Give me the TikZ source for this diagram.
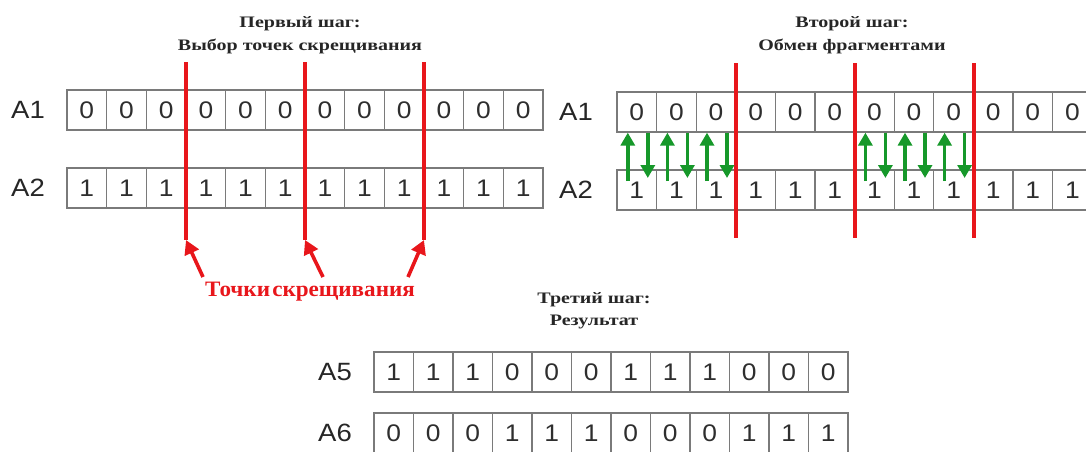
\documentclass[tikz,border=0pt]{standalone}
\usepackage{fontspec}
\setmainfont{Liberation Serif}
\newfontfamily\cellfont[FakeStretch=1.1]{Liberation Sans}
\newfontfamily\titlefont[FakeStretch=1.25]{Liberation Serif}
\newfontfamily\redfont[FakeStretch=1.05]{Liberation Serif}
\usetikzlibrary{arrows.meta}
\definecolor{cellgray}{HTML}{7A7A7A}
\definecolor{digit}{HTML}{2E2E2E}
\definecolor{xred}{HTML}{E8161B}
\definecolor{xgreen}{HTML}{16982A}
\begin{document}
\begin{tikzpicture}[x=1pt,y=-1pt,
 cell/.style={draw=cellgray, line width=1.3pt, minimum width=39.6pt, minimum height=40pt, inner sep=0pt, font=\cellfont\fontsize{24}{24}\selectfont, text=digit},
 rowlabel/.style={font=\cellfont\fontsize{25}{25}\selectfont, text=black!85, inner sep=0pt},
 title/.style={font=\titlefont\bfseries\fontsize{16}{23}\selectfont, align=center, inner sep=0pt, text=black!85},
 cutline/.style={draw=xred, line width=3.2pt},
 redarrow/.style={draw=xred, line width=3.6pt, -{Triangle[length=14pt,width=15pt]}},
 swaparrow/.style={draw=xgreen, line width=3.6pt, -{Triangle[length=13pt,width=14pt]}},
]
\useasboundingbox (0,0) rectangle (1086,451);
\clip (0,0) rectangle (1086,451);

% ---------- step 1 ----------
\node[title] (t1) at (300,35) {Первый шаг:\\Выбор точек скрещивания};
\node[rowlabel] (la1) at (28,110) {A1};
\node[rowlabel] (la2) at (28,188) {A2};
\foreach \d [count=\i from 0] in {0,0,0,0,0,0,0,0,0,0,0,0}
  \node[cell] (L1-\i) at (67+39.67*\i+19.83,110) {\d};
\foreach \d [count=\i from 0] in {1,1,1,1,1,1,1,1,1,1,1,1}
  \node[cell] (L2-\i) at (67+39.67*\i+19.83,188) {\d};

\coordinate (c1t) at (186,62);  \coordinate (c1b) at (186,240);
\coordinate (c2t) at (305,62);  \coordinate (c2b) at (305,240);
\coordinate (c3t) at (424,62);  \coordinate (c3b) at (424,240);
\draw[cutline] (c1t) -- (c1b);
\draw[cutline] (c2t) -- (c2b);
\draw[cutline] (c3t) -- (c3b);

\node[font=\redfont\bfseries\fontsize{22}{22}\selectfont, text=xred, inner sep=0pt] (pts) at (310,292) {Точки\hspace{0.1em}скрещивания};
\coordinate (r1) at (203,277);
\coordinate (r2) at (323,277);
\coordinate (r3) at (408,277);
\draw[redarrow] (r1) -- (c1b);
\draw[redarrow] (r2) -- (c2b);
\draw[redarrow] (r3) -- (c3b);

% ---------- step 2 ----------
\node[title] (t2) at (852,35) {Второй шаг:\\Обмен фрагментами};
\node[rowlabel] (ra1) at (576,112) {A1};
\node[rowlabel] (ra2) at (576,190) {A2};
\foreach \d [count=\i from 0] in {0,0,0,0,0,0,0,0,0,0,0,0}
  \node[cell] (R1-\i) at (617+39.6*\i+19.8,112) {\d};
\foreach \d [count=\i from 0] in {1,1,1,1,1,1,1,1,1,1,1,1}
  \node[cell] (R2-\i) at (617+39.6*\i+19.8,190) {\d};

\coordinate (d1t) at (736,63);  \coordinate (d1b) at (736,238);
\coordinate (d2t) at (855,63);  \coordinate (d2b) at (855,238);
\coordinate (d3t) at (974,63);  \coordinate (d3b) at (974,238);
\draw[cutline] (d1t) -- (d1b);
\draw[cutline] (d2t) -- (d2b);
\draw[cutline] (d3t) -- (d3b);

\foreach \i in {0,1,2,6,7,8} {
  \coordinate (up\i b) at ([xshift=-9pt]R2-\i.north |- 0,181);
  \coordinate (up\i t) at ([xshift=-9pt]R1-\i.south);
  \coordinate (dn\i t) at ([xshift=11pt]R1-\i.south);
  \coordinate (dn\i b) at ([xshift=11pt]R2-\i.north |- 0,178);
  \draw[swaparrow] (up\i b) -- (up\i t);
  \draw[swaparrow] (dn\i t) -- (dn\i b);
}

% ---------- step 3 ----------
\node[title, font=\titlefont\bfseries\fontsize{16}{22}\selectfont] (t3) at (594,311) {Третий шаг:\\Результат};
\node[rowlabel] (la5) at (335,372) {A5};
\node[rowlabel] (la6) at (335,433) {A6};
\foreach \d [count=\i from 0] in {1,1,1,0,0,0,1,1,1,0,0,0}
  \node[cell] (B5-\i) at (374+39.5*\i+19.75,372) {\d};
\foreach \d [count=\i from 0] in {0,0,0,1,1,1,0,0,0,1,1,1}
  \node[cell] (B6-\i) at (374+39.5*\i+19.75,433) {\d};
\end{tikzpicture}
\end{document}
